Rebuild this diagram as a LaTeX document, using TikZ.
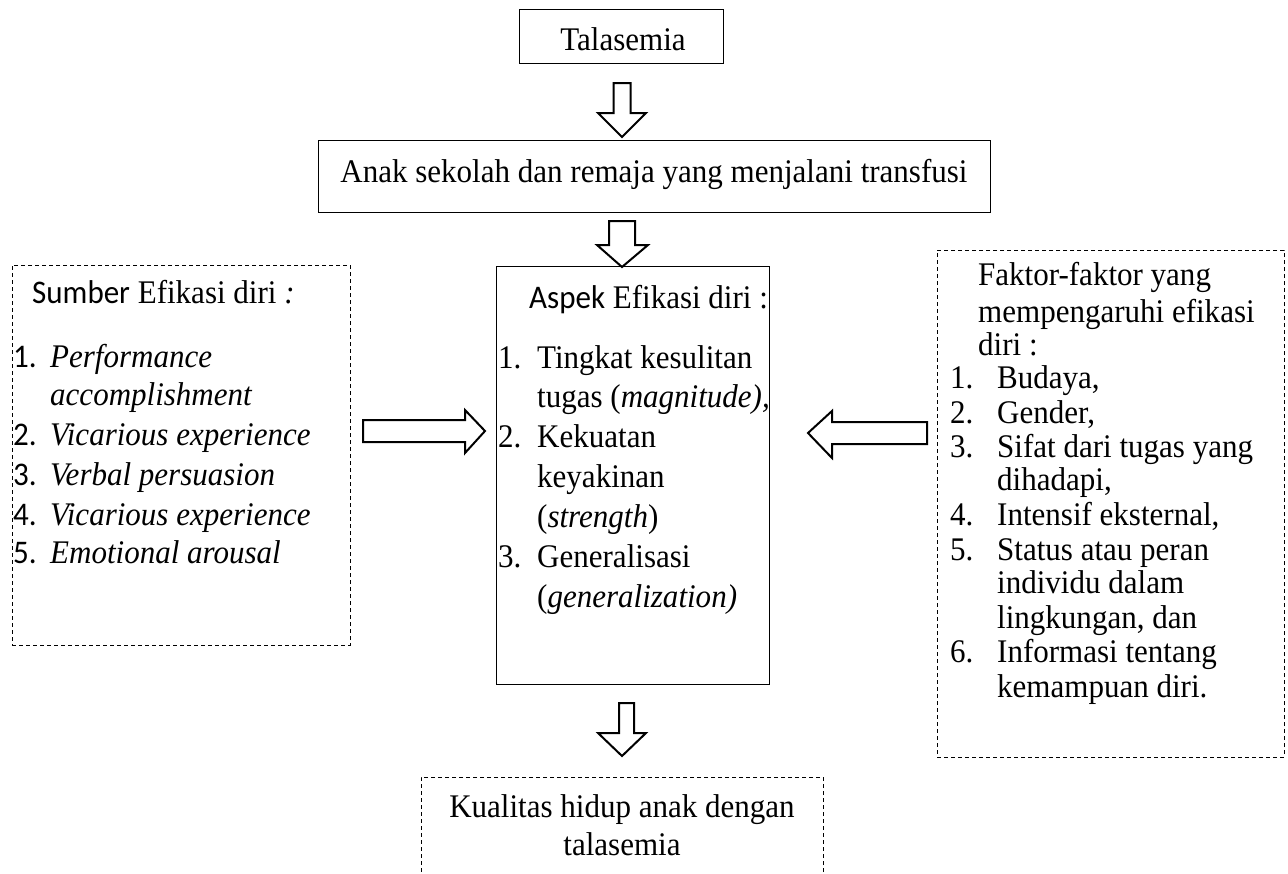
\documentclass[tikz,border=0pt]{standalone}
\usepackage{fontspec}
\setmainfont{Liberation Serif}[FakeStretch=0.94]
\newfontfamily\calfont{Carlito}[FakeStretch=0.94]
\begin{document}
\begin{tikzpicture}[x=1pt,y=-1pt,
  every node/.style={font=\fontsize{33}{37}\selectfont, inner sep=0pt},
  txt/.style={anchor=base west},
  ctxt/.style={anchor=base},
  solidbox/.style={draw, line width=1pt},
  dashbox/.style={draw, line width=1pt, dash pattern=on 4pt off 3pt},
  barrow/.style={draw, line width=2pt, fill=white, line join=miter}]
\useasboundingbox (0,0) rectangle (1288,873);
\clip (0,0) rectangle (1288,873);
% boxes
\node[solidbox, minimum width=204pt, minimum height=54pt] (tal) at (621,36) {};
\node[solidbox, minimum width=672pt, minimum height=72pt] (anak) at (654,176) {};
\node[solidbox, minimum width=273pt, minimum height=418pt] (aspek) at (632.5,475) {};
\node[dashbox, minimum width=338pt, minimum height=380pt] (sumber) at (181,455) {};
\node[dashbox, minimum width=347pt, minimum height=507pt] (faktor) at (1110.5,503.5) {};
\node[dashbox, minimum width=402pt, minimum height=120pt] (kual) at (622,837) {};
% texts
\node[ctxt] (t1) at (623,50) {Talasemia};
\node[ctxt] (t2) at (654,182) {Anak sekolah dan remaja yang menjalani transfusi};
% left box
\node[txt] (sh) at (32,303) {{\calfont Sumber} Efikasi diri \textit{:}};
\node[txt] (sn1) at (13,367) {\calfont 1.};
\node[txt] (st1) at (50,367) {\textit{Performance}};
\node[txt] (st2) at (50,405) {\textit{accomplishment}};
\node[txt] (sn3) at (13,445) {\calfont 2.};
\node[txt] (st3) at (50,445) {\textit{Vicarious experience}};
\node[txt] (sn4) at (13,485) {\calfont 3.};
\node[txt] (st4) at (50,485) {\textit{Verbal persuasion}};
\node[txt] (sn5) at (13,525) {\calfont 4.};
\node[txt] (st5) at (50,525) {\textit{Vicarious experience}};
\node[txt] (sn6) at (13,563) {\calfont 5.};
\node[txt] (st6) at (50,563) {\textit{Emotional arousal}};
% center box
\node[txt] (ah) at (529,308) {{\calfont Aspek} Efikasi diri :};
\node[txt] (an1) at (498,368) {1.};
\node[txt] (at1) at (537,368) {Tingkat kesulitan};
\node[txt] (at2) at (537,407) {tugas (\textit{magnitude),}};
\node[txt] (an3) at (498,447) {2.};
\node[txt] (at3) at (537,447) {Kekuatan};
\node[txt] (at4) at (537,487) {keyakinan};
\node[txt] (at5) at (537,527) {(\textit{strength})};
\node[txt] (an6) at (498,567) {3.};
\node[txt] (at6) at (537,567) {Generalisasi};
\node[txt] (at7) at (537,607) {(\textit{generalization)}};
% right box
\node[txt] (fh1) at (978,285) {Faktor-faktor yang};
\node[txt] (fh2) at (978,322) {mempengaruhi efikasi};
\node[txt] (fh3) at (978,355) {diri :};
\node[txt] (fn1) at (950,388) {1.};
\node[txt] (ft1) at (997,388) {Budaya,};
\node[txt] (fn2) at (950,423) {2.};
\node[txt] (ft2) at (997,423) {Gender,};
\node[txt] (fn3) at (950,457) {3.};
\node[txt] (ft3) at (997,457) {Sifat dari tugas yang};
\node[txt] (ft4) at (997,490) {dihadapi,};
\node[txt] (fn5) at (950,525) {4.};
\node[txt] (ft5) at (997,525) {Intensif eksternal,};
\node[txt] (fn6) at (950,560) {5.};
\node[txt] (ft6) at (997,560) {Status atau peran};
\node[txt] (ft7) at (997,593) {individu dalam};
\node[txt] (ft8) at (997,628) {lingkungan, dan};
\node[txt] (fn9) at (950,662) {6.};
\node[txt] (ft9) at (997,662) {Informasi tentang};
\node[txt] (ft10) at (997,697) {kemampuan diri.};
% bottom box
\node[ctxt] (k1) at (622,817) {Kualitas hidup anak dengan};
\node[ctxt] (k2) at (622,855) {talasemia};
% block arrows
\draw[barrow] (613.5,83) -- (630.5,83) -- (630.5,113) -- (646,113) -- (622,137) -- (598,113) -- (613.5,113) -- cycle;
\draw[barrow] (609,221) -- (635,221) -- (635,245) -- (648,245) -- (622,267) -- (597,245) -- (609,245) -- cycle;
\draw[barrow] (619,703) -- (634,703) -- (634,733) -- (646,733) -- (622,756) -- (598,733) -- (619,733) -- cycle;
\draw[barrow] (363,420) -- (465,420) -- (465,410) -- (485,431) -- (465,453) -- (465,442) -- (363,442) -- cycle;
\draw[barrow] (927,422) -- (832,422) -- (832,411) -- (808,433) -- (832,458) -- (832,444) -- (927,444) -- cycle;
\end{tikzpicture}
\end{document}
